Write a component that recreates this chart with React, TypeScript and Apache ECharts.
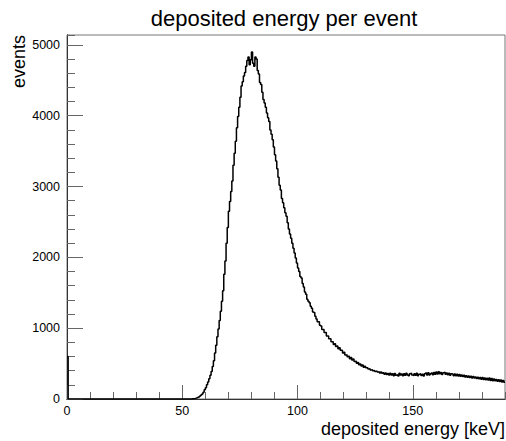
import React, { useEffect, useRef } from "react";
import * as echarts from "echarts";

// Histogram: deposited energy per event, 0.5 keV bins from 0 to 190 keV
const binStart = 0;
const binWidth = 0.5;
const counts: number[] = [
  // 0 - 4.5
  600, 0, 0, 0, 0, 0, 0, 0, 0, 0,
  // 5 - 9.5
  0, 0, 0, 0, 0, 0, 0, 0, 0, 0,
  // 10 - 14.5
  0, 0, 0, 0, 0, 0, 0, 0, 0, 0,
  // 15 - 19.5
  0, 0, 0, 0, 0, 0, 0, 0, 0, 0,
  // 20 - 24.5
  0, 0, 0, 0, 0, 0, 0, 0, 0, 0,
  // 25 - 29.5
  0, 0, 0, 0, 0, 0, 0, 0, 0, 0,
  // 30 - 34.5
  0, 0, 0, 0, 0, 0, 0, 0, 0, 0,
  // 35 - 39.5
  0, 0, 0, 0, 0, 0, 0, 0, 0, 0,
  // 40 - 44.5
  0, 0, 0, 0, 0, 0, 0, 0, 0, 0,
  // 45 - 49.5
  0, 0, 0, 0, 0, 0, 0, 0, 0, 0,
  // 50 - 54.5
  0, 0, 0, 0, 0, 0, 0, 0, 3, 5,
  // 55 - 59.5
  8, 12, 18, 25, 32, 42, 55, 70, 95, 130,
  // 60 - 64.5
  160, 200, 240, 285, 335, 390, 460, 540, 650, 760,
  // 65 - 69.5
  880, 990, 1110, 1240, 1380, 1530, 1760, 1950, 2200, 2420,
  // 70 - 74.5
  2650, 2790, 2930, 3080, 3300, 3470, 3640, 3830, 3990, 4120,
  // 75 - 79.5
  4260, 4420, 4480, 4560, 4610, 4700, 4780, 4830, 4720, 4790,
  // 80 - 84.5
  4900, 4740, 4700, 4830, 4800, 4640, 4590, 4470, 4440, 4330,
  // 85 - 89.5
  4230, 4180, 4120, 4040, 3970, 3920, 3800, 3740, 3660, 3560,
  // 90 - 94.5
  3450, 3360, 3250, 3130, 3020, 2950, 2830, 2770, 2700, 2630,
  // 95 - 99.5
  2580, 2490, 2400, 2330, 2270, 2200, 2130, 2060, 1990, 1920,
  // 100 - 104.5
  1850, 1800, 1730, 1710, 1630, 1580, 1510, 1480, 1410, 1380,
  // 105 - 109.5
  1360, 1310, 1280, 1230, 1220, 1170, 1130, 1090, 1090, 1040,
  // 110 - 114.5
  1030, 980, 980, 940, 940, 890, 890, 850, 850, 810,
  // 115 - 119.5
  810, 770, 780, 740, 750, 710, 725, 690, 690, 650,
  // 120 - 124.5
  660, 620, 625, 595, 605, 570, 585, 550, 565, 530,
  // 125 - 129.5
  535, 505, 515, 485, 495, 465, 480, 450, 462, 440,
  // 130 - 134.5
  440, 425, 428, 410, 415, 400, 402, 390, 395, 380,
  // 135 - 139.5
  385, 368, 380, 362, 372, 350, 366, 345, 360, 340,
  // 140 - 144.5
  362, 338, 355, 330, 360, 336, 345, 325, 362, 338,
  // 145 - 149.5
  352, 328, 356, 334, 362, 340, 330, 358, 366, 338,
  // 150 - 154.5
  330, 356, 336, 362, 328, 350, 358, 332, 350, 326,
  // 155 - 159.5
  355, 366, 340, 372, 338, 356, 368, 342, 375, 350,
  // 160 - 164.5
  380, 352, 385, 355, 375, 345, 372, 380, 348, 366,
  // 165 - 169.5
  342, 364, 336, 358, 350, 330, 352, 330, 348, 326,
  // 170 - 174.5
  345, 322, 340, 318, 335, 312, 330, 308, 325, 302,
  // 175 - 179.5
  322, 298, 318, 295, 310, 290, 308, 285, 302, 280,
  // 180 - 184.5
  305, 276, 298, 272, 292, 268, 296, 262, 288, 258,
  // 185 - 189.5
  282, 256, 276, 250, 272, 246, 268, 240, 260, 236,
];

const xMin = 0;
const xMax = 190;
const yMin = 0;
const yMax = 5140;
const xMajor = 50;
const xMinor = 10;
const yMajor = 1000;
const yMinor = 200;

const titleText = "deposited energy per event";
const xTitle = "deposited energy [keV]";
const yTitle = "events";

const FONT = "'Liberation Sans', Arial, Helvetica, sans-serif";

export default function App() {
  const ref = useRef<HTMLDivElement>(null);

  useEffect(() => {
    if (!ref.current) return;
    const chart = echarts.init(ref.current, null, { renderer: "svg" });

    const stepData: [number, number][] = counts.map((v, i) => [binStart + i * binWidth, v]);
    stepData.push([binStart + counts.length * binWidth, counts[counts.length - 1]]);

    const axisLineStyle = { color: "#333", width: 1 };
    const tickStyle = { color: "#666", width: 1 };
    const plain = (v: number) => String(v);

    chart.setOption({
      animation: false,
      backgroundColor: "#fff",
      grid: {
        left: 67,
        right: 1,
        top: 35,
        bottom: 42,
        show: true,
        borderColor: "#777",
        borderWidth: 1,
        backgroundColor: "transparent",
      },
      xAxis: [
        {
          type: "value",
          min: xMin,
          max: xMax,
          interval: xMinor,
          position: "bottom",
          axisLine: { show: true, lineStyle: axisLineStyle },
          axisTick: { show: true, inside: true, length: 7, lineStyle: tickStyle },
          axisLabel: { show: false },
          splitLine: { show: false },
        },
        {
          type: "value",
          min: xMin,
          max: xMax,
          interval: xMajor,
          position: "bottom",
          axisLine: { show: true, lineStyle: axisLineStyle },
          axisTick: { show: true, inside: true, length: 14, lineStyle: tickStyle },
          axisLabel: {
            show: true,
            showMaxLabel: false,
            margin: 5,
            color: "#000",
            fontSize: 12.5,
            fontFamily: FONT,
            formatter: plain,
          },
          splitLine: { show: false },
        },
      ],
      yAxis: [
        {
          type: "value",
          min: yMin,
          max: yMax,
          interval: yMinor,
          position: "left",
          axisLine: { show: true, lineStyle: axisLineStyle },
          axisTick: { show: true, inside: true, length: 8, lineStyle: tickStyle },
          axisLabel: { show: false },
          splitLine: { show: false },
        },
        {
          type: "value",
          min: yMin,
          max: yMax,
          interval: yMajor,
          position: "left",
          axisLine: { show: true, lineStyle: axisLineStyle },
          axisTick: { show: true, inside: true, length: 16, lineStyle: tickStyle },
          axisLabel: {
            show: true,
            showMaxLabel: false,
            margin: 7,
            color: "#000",
            fontSize: 12.5,
            fontFamily: FONT,
            formatter: plain,
          },
          splitLine: { show: false },
        },
      ],
      series: [
        {
          type: "line",
          step: "end",
          xAxisIndex: 0,
          yAxisIndex: 0,
          data: stepData,
          showSymbol: false,
          symbol: "none",
          clip: true,
          lineStyle: { color: "#000", width: 1.5 },
          silent: true,
        },
      ],
      graphic: [
        {
          type: "text",
          x: 284,
          y: 7,
          style: {
            text: titleText,
            fill: "#000",
            font: `22px ${FONT}`,
            textAlign: "center",
            textVerticalAlign: "top",
          },
        },
        {
          type: "text",
          x: 505,
          y: 420,
          style: {
            text: xTitle,
            fill: "#000",
            font: `18px ${FONT}`,
            textAlign: "right",
            textVerticalAlign: "top",
          },
        },
        {
          type: "text",
          x: 19,
          y: 35,
          rotation: Math.PI / 2,
          style: {
            text: yTitle,
            fill: "#000",
            font: `18px ${FONT}`,
            textAlign: "right",
            textVerticalAlign: "middle",
          },
        },
      ],
    });

    return () => {
      chart.dispose();
    };
  }, []);

  return (
    <div
      ref={ref}
      style={{ position: "fixed", left: 0, top: 0, width: 506, height: 441 }}
    />
  );
}
